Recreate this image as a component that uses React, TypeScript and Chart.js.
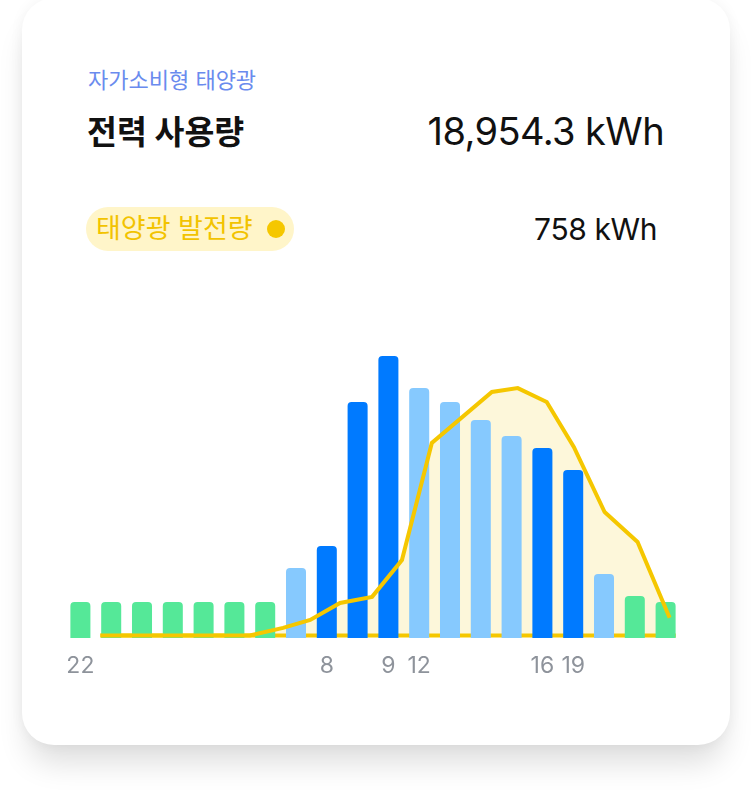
import React, { useEffect, useRef } from "react";
import { Chart, registerables } from "chart.js";

Chart.register(...registerables);

// ---- data ----
const hourLabels = ["22", "", "", "", "", "", "", "", "8", "", "9", "12", "", "", "", "16", "19", "", "", ""];
const usageValues = [9, 9, 9, 9, 9, 9, 9, 17.5, 23, 59, 70.5, 62.5, 59, 54.5, 50.5, 47.5, 42, 16, 10.5, 9];
const usageTier = ["off", "off", "off", "off", "off", "off", "off", "mid", "peak", "peak", "peak", "mid", "mid", "mid", "mid", "peak", "peak", "mid", "off", "off"];
const solarX = [0.65, 5.5, 6.58, 7.46, 8.43, 9.47, 10.44, 11.41, 13.36, 14.2, 15.14, 16.02, 17.02, 18.09, 19.13];
const solarY = [0, 0, 3, 6.1, 12.8, 15.2, 29.7, 75.8, 95.9, 97.4, 91.9, 74.2, 48.6, 36.8, 7];
const baselineX = [0.65, 19.33];
const baselineY = [0, 0];

const title = "전력 사용량";
const subtitle = "자가소비형 태양광";
const totalUsage = "18,954.3 kWh";
const solarLabel = "태양광 발전량";
const solarTotal = "758 kWh";

// ---- styles ----
const tierColor: Record<string, string> = {
  off: "#55E898",
  mid: "#86C9FE",
  peak: "#007AFF",
};
const YELLOW = "#F5C700";
const FILL = "#FDF7DA";
const FONT = "Inter, 'Noto Sans CJK KR', 'Noto Sans', sans-serif";

function UsageChart() {
  const ref = useRef<HTMLCanvasElement | null>(null);
  useEffect(() => {
    if (!ref.current) return;
    const chart = new Chart(ref.current, {
      type: "bar",
      data: {
        labels: hourLabels,
        datasets: [
          {
            type: "line" as const,
            label: "solar",
            data: solarX.map((x, i) => ({ x, y: solarY[i] })),
            xAxisID: "xl",
            yAxisID: "y2",
            borderColor: YELLOW,
            borderWidth: 4,
            backgroundColor: FILL,
            fill: "origin",
            pointRadius: 0,
            tension: 0,
            order: 0,
          },
          {
            type: "bar" as const,
            label: "usage",
            data: usageValues,
            xAxisID: "x",
            yAxisID: "y",
            backgroundColor: usageTier.map((t) => tierColor[t]),
            borderRadius: { topLeft: 4, topRight: 4, bottomLeft: 0, bottomRight: 0 },
            borderSkipped: "bottom",
            barPercentage: 0.65,
            categoryPercentage: 1,
            grouped: false,
            order: 1,
          },
          {
            type: "line" as const,
            label: "baseline",
            data: baselineX.map((x, i) => ({ x, y: baselineY[i] })),
            xAxisID: "xl",
            yAxisID: "y2",
            borderColor: YELLOW,
            borderWidth: 4,
            pointRadius: 0,
            fill: false,
            order: 2,
          },
        ],
      },
      options: {
        animation: false,
        responsive: false,
        layout: { padding: 0 },
        plugins: {
          legend: { display: false },
          tooltip: { enabled: false },
          filler: { drawTime: "beforeDatasetsDraw" },
        },
        scales: {
          x: {
            type: "category",
            offset: true,
            grid: { display: false, drawTicks: false },
            border: { display: false },
            ticks: {
              autoSkip: false,
              maxRotation: 0,
              padding: 14,
              color: "#8E939B",
              font: { family: FONT, size: 23 },
            },
            afterFit: (scale: any) => {
              scale.height = 62;
              scale.paddingLeft = 0;
              scale.paddingRight = 0;
            },
          },
          xl: {
            type: "linear",
            display: false,
            offset: false,
            min: -0.5,
            max: 19.5,
          },
          y: { display: false, min: 0, max: 80 },
          y2: { display: false, min: -1, max: 125 },
        },
      },
    } as any);
    return () => chart.destroy();
  }, []);
  return (
    <canvas
      ref={ref}
      width={616}
      height={382}
      style={{ position: "absolute", left: 65, top: 318, width: 616, height: 382 }}
    />
  );
}

export default function App() {
  return (
    <div
      style={{
        position: "fixed",
        left: 0,
        top: 0,
        width: 752,
        height: 792,
        background: "#fff",
        overflow: "hidden",
        fontFamily: FONT,
      }}
    >
      <div
        style={{
          position: "absolute",
          left: 22,
          top: -2,
          width: 708,
          height: 747,
          borderRadius: 32,
          background: "#fff",
          boxShadow: "0 24px 30px -6px rgba(0,0,0,0.13), 0 0 14px rgba(0,0,0,0.05)",
        }}
      />
      <div style={{ position: "absolute", left: 88, top: 67, fontSize: 22, lineHeight: "26px", color: "#6A8BEE" }}>
        {subtitle}
      </div>
      <div style={{ position: "absolute", left: 87, top: 113, fontSize: 32.5, lineHeight: "40px", fontWeight: 700, color: "#111" }}>
        {title}
      </div>
      <div
        style={{
          position: "absolute",
          right: 88,
          top: 108,
          fontSize: 38,
          lineHeight: "46px",
          color: "#111",
          letterSpacing: -0.6,
          whiteSpace: "nowrap",
        }}
      >
        {totalUsage}
      </div>
      <div
        style={{
          position: "absolute",
          left: 86,
          top: 207,
          width: 208,
          height: 44,
          borderRadius: 22,
          background: "#FFF5C9",
        }}
      >
        <span style={{ position: "absolute", left: 10, top: 6, fontSize: 27, lineHeight: "32px", color: "#F2C300", whiteSpace: "nowrap" }}>
          {solarLabel}
        </span>
        <span
          style={{
            position: "absolute",
            left: 181,
            top: 13,
            width: 18,
            height: 18,
            borderRadius: 9,
            background: YELLOW,
          }}
        />
      </div>
      <div
        style={{
          position: "absolute",
          right: 95,
          top: 211,
          fontSize: 30,
          lineHeight: "36px",
          color: "#111",
          whiteSpace: "nowrap",
          letterSpacing: -0.4,
        }}
      >
        {solarTotal}
      </div>
      <UsageChart />
    </div>
  );
}
